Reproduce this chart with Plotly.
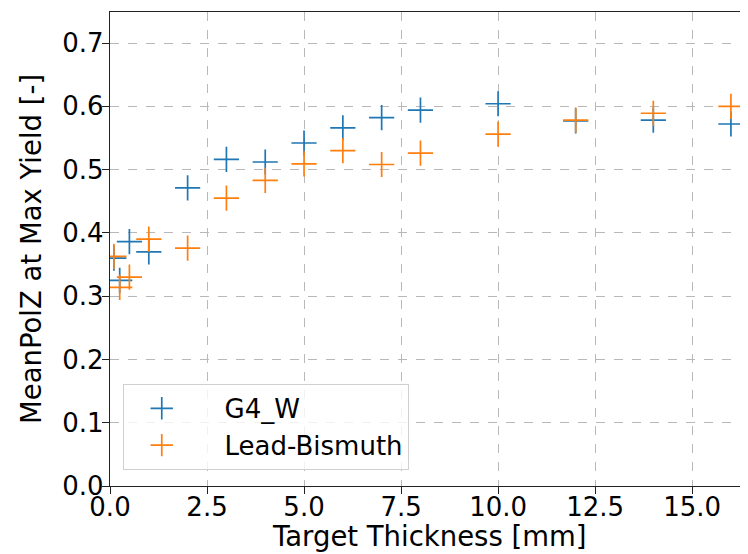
import plotly.graph_objects as go

thickness = [0.1, 0.25, 0.5, 1, 2, 3, 4, 5, 6, 7, 8, 10, 12, 14, 16]
g4_w = [0.360, 0.325, 0.386, 0.370, 0.471, 0.516, 0.512, 0.542, 0.566, 0.582, 0.594, 0.604, 0.577, 0.578, 0.572]
lead_bismuth = [0.363, 0.314, 0.330, 0.390, 0.376, 0.455, 0.483, 0.509, 0.530, 0.508, 0.526, 0.556, 0.578, 0.589, 0.600]

x_ticks = [0, 2.5, 5, 7.5, 10, 12.5, 15]
y_ticks = [0.0, 0.1, 0.2, 0.3, 0.4, 0.5, 0.6, 0.7]

FONT = "DejaVu Sans"
FS = 26
TFS = 27.5
PAD = "\u00a0\u00a0\u00a0"

fig = go.Figure()
fig.add_trace(go.Scatter(
    x=thickness, y=g4_w, mode="markers", name=PAD + "G4_W",
    marker=dict(symbol="cross-thin", size=18, color="#1f77b4",
                line=dict(width=1.7, color="#1f77b4")),
))
fig.add_trace(go.Scatter(
    x=thickness, y=lead_bismuth, mode="markers", name=PAD + "Lead-Bismuth",
    marker=dict(symbol="cross-thin", size=18, color="#ff7f0e",
                line=dict(width=1.7, color="#ff7f0e")),
))

axis_common = dict(
    showgrid=True, gridcolor="#b8b8b8", griddash="dash", gridwidth=1,
    showline=True, linecolor="#222222", linewidth=1.3,
    ticks="outside", ticklen=7, tickwidth=1.3, tickcolor="#222222",
    tickfont=dict(family=FONT, size=FS, color="black"),
    zeroline=False, automargin=False,
)

fig.update_layout(
    width=748, height=554,
    margin=dict(l=102, r=8, t=4, b=76),
    paper_bgcolor="white", plot_bgcolor="white",
    font=dict(family=FONT, size=FS, color="black"),
    xaxis=dict(
        range=[0, 16.44], tickvals=x_ticks,
        ticktext=[f"{v:.1f}" for v in x_ticks],
        mirror=True, ticklabelstandoff=-9,
        **axis_common,
    ),
    yaxis=dict(
        range=[0, 0.749], tickvals=y_ticks,
        ticktext=[f"{v:.1f}" for v in y_ticks],
        ticklabelstandoff=-7,
        **axis_common,
    ),
    legend=dict(
        x=0.02, y=0.034, xanchor="left", yanchor="bottom",
        bgcolor="rgba(255,255,255,0.8)", bordercolor="#d0d0d0", borderwidth=1,
        font=dict(family=FONT, size=FS, color="black"),
        itemwidth=66, tracegroupgap=0,
    ),
    annotations=[
        dict(
            text="Target Thickness [mm]", xref="paper", yref="paper",
            x=0.5, y=0, xanchor="center", yanchor="middle", yshift=-50,
            showarrow=False, font=dict(family=FONT, size=TFS, color="black"),
        ),
        dict(
            text="MeanPolZ at Max Yield [-]", xref="paper", yref="paper",
            x=0, y=0.5, xanchor="center", yanchor="middle", xshift=-79,
            textangle=-90,
            showarrow=False, font=dict(family=FONT, size=TFS, color="black"),
        ),
    ],
)

fig.write_html("out.html")
